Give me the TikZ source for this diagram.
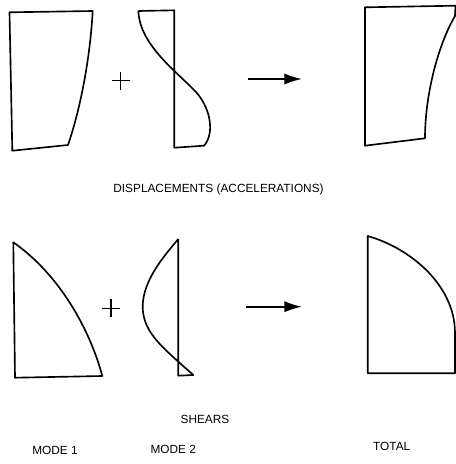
\documentclass[tikz,border=0pt]{standalone}
\usepackage{fontspec}
\setsansfont{Liberation Sans}
\usepackage{tikz}
\usetikzlibrary{arrows.meta, positioning, calc}

\begin{document}
\begin{tikzpicture}[x=0.03cm, y=-0.03cm,
  outline/.style={line width=1.4pt, line join=round},
  plus/.style={line width=1.1pt},
  conn/.style={-{Latex[length=15pt, width=9.5pt]}, line width=1.4pt},
  caption/.style={font=\sffamily\fontsize{10.1}{11}\selectfont, inner sep=0pt},
]
\useasboundingbox (0,0) rectangle (456,464);

% Displacements: mode 1
\draw[outline] (9.5,12.3) -- (92.7,11) .. controls (90,60) and (80,110) .. (68,145)
  -- (12.3,150.7) -- cycle;
% Displacements: mode 2
\draw[outline] (138.3,11) -- (174.3,10.3) -- (174.3,147.7) -- (204,145.7)
  .. controls (214,135) and (212,110) .. (196,92)
  .. controls (175,70) and (140,45) .. (138.3,11);
\draw[plus] (111.5,80.7) -- (129.5,80.7) (120.5,71.7) -- (120.5,89.7);
% Displacements: total
\draw[outline] (365,7.3) -- (455.5,5.7) -- (455,16)
  .. controls (438,45) and (425,95) .. (425,138.3) -- (365,145.7) -- cycle;

% Shears: mode 1
\draw[outline] (13.3,242.3) .. controls (60,275) and (90,330) .. (102.3,376)
  -- (15,377.7) -- cycle;
% Shears: mode 2
\draw[outline] (178.3,239) -- (178.3,375.7) -- (193.3,375) -- (178.3,361.7)
  .. controls (160,345) and (142.7,330) .. (142.7,306.7)
  .. controls (142.7,280) and (165,255) .. (178.3,239);
\draw[plus] (102,308.3) -- (120,308.3) (111,299.3) -- (111,317.3);
% Shears: total
\draw[outline] (367.7,236) .. controls (410,248) and (455,285) .. (455,333)
  -- (455,373.3) -- (367.7,373.3) -- cycle;

% arrows
\coordinate (dispFrom) at (248.3,79);
\coordinate (dispTo) at (302,79);
\coordinate (shearFrom) at (245.7,306.7);
\coordinate (shearTo) at (302,306.7);
\draw[conn] (dispFrom) -- (dispTo);
\draw[conn] (shearFrom) -- (shearTo);

% labels
\node[caption] (disp) at (218.5,189) {DISPLACEMENTS (ACCELERATIONS)};
\node[caption] (shear) at (205,419.3) {SHEARS};
\node[caption] (modeA) at (55,450.7) {MODE 1};
\node[caption] (modeB) at (173.3,449) {MODE 2};
\node[caption] (total) at (391.7,446.7) {TOTAL};

\end{tikzpicture}
\end{document}
